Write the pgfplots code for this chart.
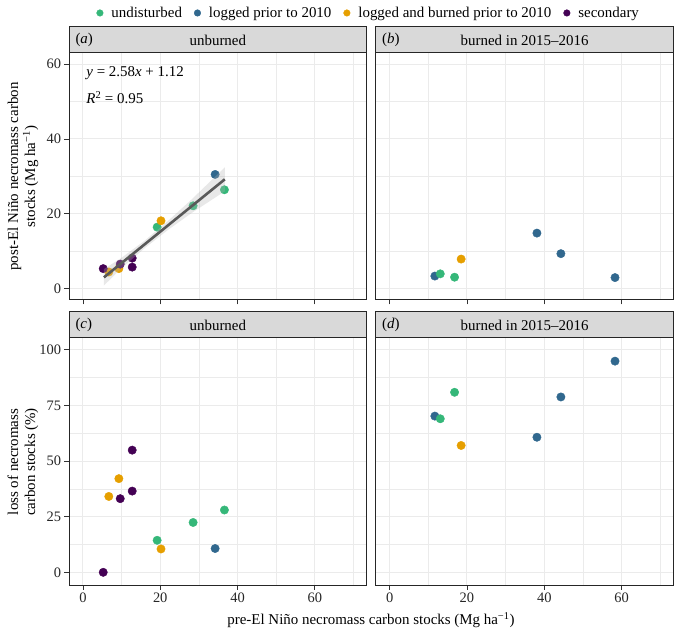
\documentclass[border=0pt]{standalone}
\usepackage{fontspec}
\setmainfont{Liberation Serif}
\usepackage{pgfplots}
\pgfplotsset{compat=1.18}
\definecolor{cgreen}{HTML}{35B779}
\definecolor{cblue}{HTML}{31688E}
\definecolor{corange}{HTML}{E69F00}
\definecolor{cpurple}{HTML}{440154}
\definecolor{gridc}{HTML}{EBEBEB}
\definecolor{stripc}{HTML}{D9D9D9}
\newcommand{\fs}{\fontsize{15}{17}\selectfont}
\newcommand{\ft}{\fontsize{14.5}{16.5}\selectfont}
\pgfplotsset{
  panel/.style={
    scale only axis, width=297.7bp, height=247bp,
    xmin=-3.6, xmax=73.4,
    xtick={0,20,40,60}, minor xtick={10,30,50,70},
    grid=both,
    major grid style={draw=gridc, line width=1bp},
    minor grid style={draw=gridc, line width=0.5bp},
    tick align=outside, tick pos=left,
    major tick length=4.5bp, minor tick length=0pt,
    axis line style={line width=1bp, draw=black!85},
    tick style={line width=0.8bp, draw=black!80},
    ticklabel style={font=\ft, color=black!85},
    /pgf/number format/assume math mode=true,
    clip mode=individual,
  },
  toprow/.style={ymin=-3.1, ymax=63, ytick={0,20,40,60}, minor ytick={10,30,50}},
  botrow/.style={ymin=-5.7, ymax=105.3, ytick={0,25,50,75,100}, minor ytick={12.5,37.5,62.5,87.5}},
  noy/.style={yticklabels={}, ytick style={draw=none}},
  nox/.style={xticklabels={}},
  pts/.style={only marks, mark=*, color=#1, mark size=4.2bp, mark options={draw=#1, fill=#1}},
}
\begin{document}
\begin{tikzpicture}
\useasboundingbox (0,0) rectangle (674bp,630bp);
% ---------- (a)
\begin{axis}[panel, toprow, nox, name=a, at={(69bp,330bp)}, anchor=south west,
  legend style={at={(1.0067,1.162)}, anchor=center, draw=none, fill=none, font=\fs,
    /tikz/every even column/.append style={column sep=10bp}},
  legend columns=4, legend cell align=left,
  legend image code/.code={\path[draw=none, fill=none] (-3.3bp,-1bp) rectangle (9.5bp,1bp); \fill[#1] (0bp,0bp) circle (3.3bp);}]
\addplot[pts=cgreen] coordinates {(36.6,26.4) (28.5,22.1) (19.2,16.4)};
\addlegendentry{undisturbed}
\addplot[pts=cblue] coordinates {(34.2,30.5)};
\addlegendentry{logged prior to 2010}
\addplot[pts=corange] coordinates {(20.2,18.1) (9.3,5.3) (6.7,4.4)};
\addlegendentry{logged and burned prior to 2010}
\addplot[pts=cpurple] coordinates {(12.75,8.1) (12.75,5.7) (9.65,6.5) (5.25,5.3)};
\addlegendentry{secondary}
\addplot[fill=gray!60, fill opacity=0.3, draw=none, forget plot] coordinates {
  (5.4,5.15) (10,8.2) (16,12.8) (22,18.05) (28,23.7) (36.7,32.4)
  (36.7,26.0) (28,20.1) (22,15.65) (16,10.8) (10,5.4) (5.4,0.75)} -- cycle;
\addplot[draw=black!65, line width=2.6bp, forget plot] coordinates {(5.43,2.95) (36.7,29.2)};
\node[anchor=west, font=\fs, inner sep=0pt] at (axis cs:0.85,57.6) {\textit{y} = 2.58\textit{x} + 1.12};
\node[anchor=west, font=\fs, inner sep=0pt] at (axis cs:0.85,51) {\textit{R}\textsuperscript{2} = 0.95};
\end{axis}
% ---------- (b)
\begin{axis}[panel, toprow, nox, noy, name=b, at={(375.7bp,330bp)}, anchor=south west]
\addplot[pts=cblue] coordinates {(38.1,14.8) (44.3,9.3) (58.3,2.9) (11.7,3.3)};
\addplot[pts=cgreen] coordinates {(13.1,3.9) (16.8,3.0)};
\addplot[pts=corange] coordinates {(18.5,7.85)};
\end{axis}
% ---------- (c)
\begin{axis}[panel, botrow, name=c, at={(69bp,45bp)}, anchor=south west]
\addplot[pts=cgreen] coordinates {(36.6,28.0) (28.5,22.4) (19.2,14.4)};
\addplot[pts=cblue] coordinates {(34.2,10.7)};
\addplot[pts=corange] coordinates {(20.2,10.5) (9.3,42.1) (6.7,34.1)};
\addplot[pts=cpurple] coordinates {(12.75,36.5) (12.75,54.9) (9.65,33.1) (5.25,0)};
\end{axis}
% ---------- (d)
\begin{axis}[panel, botrow, noy, name=d, at={(375.7bp,45bp)}, anchor=south west]
\addplot[pts=cblue] coordinates {(58.3,94.9) (44.3,78.8) (11.7,70.2) (38.1,60.7)};
\addplot[pts=cgreen] coordinates {(16.8,80.9) (13.1,69.0)};
\addplot[pts=corange] coordinates {(18.5,57.0)};
\end{axis}
% ---------- strips
\foreach \p/\l/\t in {a/a/unburned, b/b/burned in 2015–2016, c/c/unburned, d/d/burned in 2015–2016}{
  \draw[fill=stripc, draw=black!85, line width=1bp] (\p.north west) rectangle ([yshift=26bp]\p.north east);
  \node[anchor=west, font=\fs] at ([xshift=3bp, yshift=13bp]\p.north west) {(\textit{\l})};
  \node[font=\fs] at ([yshift=13bp]\p.north) {\t};
}
% ---------- axis titles
\node[rotate=90, align=center, font=\fs] at (23bp,453.5bp) {post-El Niño necromass carbon\\stocks (Mg ha\textsuperscript{−1})};
\node[rotate=90, align=center, font=\fs] at (23bp,168bp) {loss of necromass\\carbon stocks (\%)};
\node[font=\fs] at (371bp,10bp) {pre-El Niño necromass carbon stocks (Mg ha\textsuperscript{−1})};
\end{tikzpicture}
\end{document}
